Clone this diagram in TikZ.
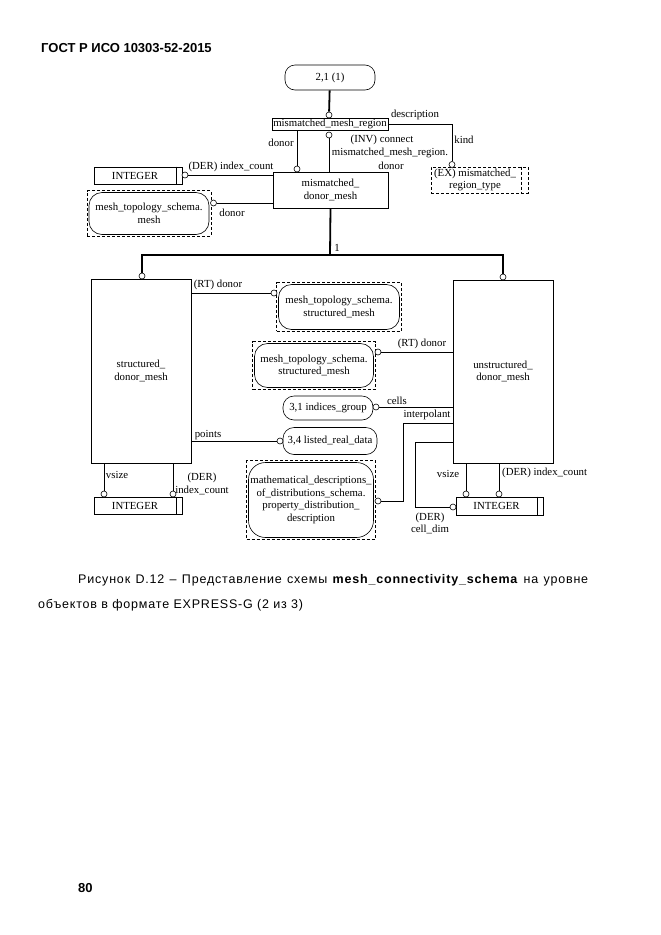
\documentclass[tikz,border=0pt]{standalone}
\usepackage{fontspec}
\setmainfont{Liberation Serif}
\setsansfont{Liberation Sans}
\usetikzlibrary{fit}
\newcommand{\dfont}{\fontsize{10.8}{12.5}\selectfont}
\newcommand{\capfont}{\sffamily\fontsize{12.5}{14}\selectfont\addfontfeature{LetterSpace=6.5}}
\newcommand{\headfont}{\sffamily\bfseries\fontsize{13}{15}\selectfont}

\begin{document}
\begin{tikzpicture}[x=1pt,y=-1pt]
\tikzstyle{entity}=[draw,line width=0.6pt,align=center,inner sep=1pt,font=\dfont]
\tikzstyle{ref}=[entity,rounded corners=13pt]
\tikzstyle{dashbox}=[draw,line width=0.6pt,dash pattern=on 3pt off 2pt,inner sep=1.5pt]
\tikzstyle{ring}=[circle,draw,line width=0.6pt,fill=white,inner sep=0pt,minimum size=6pt]
\tikzstyle{lbl}=[inner sep=0pt,align=center,font=\dfont]
\tikzstyle{rel}=[line width=0.6pt]
\tikzstyle{super}=[line width=1.8pt]
\useasboundingbox (0,0) rectangle (661,935);

\node[anchor=base west,inner sep=0pt,font=\headfont] (head) at (41,52.5) {ГОСТ Р ИСО 10303-52-2015};

% top part
\node[ref,rounded corners=10pt,minimum width=90,minimum height=25] (page) at (330,77.5) {2,1 (1)};
\node[entity,inner sep=0.5pt,minimum width=116,minimum height=12] (region) at (330,124) {mismatched\_mesh\_region};
\node[entity,minimum width=115,minimum height=36] (dmesh) at (330.5,190) {mismatched\_\\donor\_mesh};
\node[entity,minimum width=88,minimum height=17] (intA) at (138,175.5) {INTEGER\hspace*{6pt}};
\draw[rel] ([xshift=-6pt]intA.north east) -- ([xshift=-6pt]intA.south east);
\node[dashbox,align=center,font=\dfont,minimum width=97,minimum height=26] (extype) at (479.5,180) {(EX) mismatched\_\hspace*{9pt}\\region\_type\hspace*{9pt}};
\draw[rel,dash pattern=on 3pt off 2pt] ([xshift=-7pt]extype.north east) -- ([xshift=-7pt]extype.south east);
\node[ref,minimum width=120,minimum height=42] (rmesh) at (149,213.5) {mesh\_topology\_schema.\\mesh};
\node[dashbox,fit=(rmesh)] (rmeshb) {};

% subtypes
\node[entity,minimum width=100,minimum height=184] (sdm) at (141,371) {structured\_\\donor\_mesh};
\node[entity,minimum width=100,minimum height=183] (udm) at (503,371.5) {unstructured\_\\donor\_mesh};
\node[ref,minimum width=121,minimum height=45] (rsm1) at (339,307) {mesh\_topology\_schema.\\structured\_mesh};
\node[dashbox,fit=(rsm1)] (rsm1b) {};
\node[ref,minimum width=119,minimum height=44] (rsm2) at (314,365.5) {mesh\_topology\_schema.\\structured\_mesh};
\node[dashbox,fit=(rsm2)] (rsm2b) {};
\node[ref,rounded corners=11pt,minimum width=90,minimum height=24] (ig) at (328,408) {3,1 indices\_group};
\node[ref,rounded corners=11pt,minimum width=94,minimum height=27] (lrd) at (330,441) {3,4 listed\_real\_data};
\node[ref,rounded corners=17pt,minimum width=125,minimum height=75] (pdd) at (311,500) {mathematical\_descriptions\_\\of\_distributions\_schema.\\property\_distribution\_\\description};
\node[dashbox,fit=(pdd)] (pddb) {};
\node[entity,minimum width=88,minimum height=17] (intB) at (138,505.5) {INTEGER\hspace*{6pt}};
\draw[rel] ([xshift=-6pt]intB.north east) -- ([xshift=-6pt]intB.south east);
\node[entity,minimum width=87,minimum height=18] (intC) at (499.5,506) {INTEGER\hspace*{6pt}};
\draw[rel] ([xshift=-6pt]intC.north east) -- ([xshift=-6pt]intC.south east);

\node[ring] (c_top) at (329,115) {};
\node[ring] (c_donor) at (297,169) {};
\node[ring] (c_inv) at (329,135) {};
\node[ring] (c_kind) at (452,164.5) {};
\node[ring] (c_intA) at (185,175) {};
\node[ring] (c_mesh) at (213.5,203) {};
\node[ring] (c_sdm) at (142,276) {};
\node[ring] (c_udm) at (503,277) {};
\node[ring] (c_rt1) at (274,293) {};
\node[ring] (c_rt2) at (378,352) {};
\node[ring] (c_cells) at (376,407) {};
\node[ring] (c_points) at (280,441) {};
\node[ring] (c_interp) at (378,501) {};
\node[ring] (c_celldim) at (453,507) {};
\node[ring] (c_uvs) at (466,494) {};
\node[ring] (c_uix) at (499,494) {};
\node[ring] (c_svs) at (104,494) {};
\node[ring] (c_six) at (173,494) {};

\coordinate (split) at (330,255);
\coordinate (bend1) at (403,423);
\coordinate (bend2) at (415,442);

\draw[super] (page) -- (c_top);
\draw[rel] (region.south -| c_donor) -- (c_donor);
\draw[rel] (c_inv) -- (c_inv |- dmesh.north);
\draw[rel] (region.east) -| (c_kind);
\draw[rel] (c_intA) -- (c_intA -| dmesh.west);
\draw[rel] (c_mesh) -- (c_mesh -| dmesh.west);
\draw[super] (dmesh.south) -- (split);
\draw[super] (c_sdm) |- (split) -| (c_udm);
\draw[rel] (c_rt1 -| sdm.east) -- (c_rt1);
\draw[rel] (c_rt2) -- (c_rt2 -| udm.west);
\draw[rel] (c_cells) -- (c_cells -| udm.west);
\draw[rel] (c_points -| sdm.east) -- (c_points);
\draw[rel] (bend1 -| udm.west) -- (bend1) |- (c_interp);
\draw[rel] (bend2 -| udm.west) -- (bend2) |- (c_celldim);
\draw[rel] (udm.south -| c_uvs) -- (c_uvs);
\draw[rel] (udm.south -| c_uix) -- (c_uix);
\draw[rel] (sdm.south -| c_svs) -- (c_svs);
\draw[rel] (sdm.south -| c_six) -- (c_six);

% labels
\node[lbl] (l_desc) at (415,115) {description};
\node[lbl] (l_kind) at (464,140) {kind};
\node[lbl] (l_donor1) at (281,143) {donor};
\node[lbl] (l_inv1) at (382,140) {(INV) connect};
\node[lbl] (l_inv2) at (390,152.5) {mismatched\_mesh\_region.};
\node[lbl] (l_inv3) at (391,166) {donor};
\node[lbl] (l_dix1) at (231,167) {(DER) index\_count};
\node[lbl] (l_donor2) at (232,213) {donor};
\node[lbl] (l_one) at (337,248) {1};
\node[lbl] (l_rt1) at (218,285) {(RT) donor};
\node[lbl] (l_rt2) at (422,344) {(RT) donor};
\node[lbl] (l_cells) at (397,401) {cells};
\node[lbl] (l_interp) at (427,415) {interpolant};
\node[lbl] (l_points) at (208,435) {points};
\node[lbl] (l_svs) at (117,475) {vsize};
\node[lbl] (l_six) at (202,484) {(DER)\\index\_count};
\node[lbl] (l_uvs) at (448,474) {vsize};
\node[lbl,anchor=west] (l_uix) at (502,473) {(DER) index\_count};
\node[lbl] (l_cd) at (430,523.5) {(DER)\\cell\_dim};

% caption
\node[anchor=base west,inner sep=0pt,font=\capfont] (cap1) at (78,583.5) {\hbox to 510pt{Рисунок\hfill D.12\hfill –\hfill Представление\hfill схемы\hfill \textbf{mesh\_connectivity\_schema}\hfill на\hfill уровне}};
\node[anchor=base west,inner sep=0pt,font=\capfont] (cap2) at (38,608.5) {объектов в формате EXPRESS-G (2 из 3)};
\node[anchor=base west,inner sep=0pt,font=\headfont] (pnum) at (78,892) {80};
\end{tikzpicture}
\end{document}
